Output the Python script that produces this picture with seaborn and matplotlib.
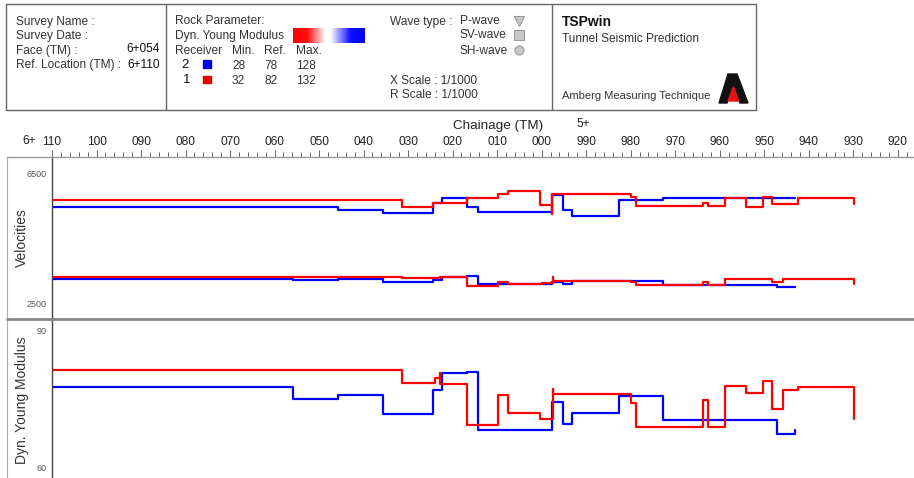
import numpy as np
import matplotlib
matplotlib.use("Agg")
import matplotlib.pyplot as plt
import seaborn as sns
from matplotlib.lines import Line2D
from matplotlib.patches import Rectangle, Polygon
from matplotlib.colors import LinearSegmentedColormap
from matplotlib.ticker import MultipleLocator, FixedLocator

sns.set_style("white")
plt.rcParams['font.family'] = ['Liberation Sans', 'DejaVu Sans']

# chainage (m) where each step starts, and value of the step
# velocities, upper pair (P-wave)
vp1_ch = [6110, 6031.3, 6024.3, 6016.8, 6009.7, 6007.5, 6000.4, 5997.7, 5997.6, 5979.9,
          5978.8, 5963.7, 5962.6, 5958.8, 5954.1, 5950.3, 5948.3, 5942.4, 5929.9]
vp1 = [5690, 5470, 5570, 5740, 5870, 5945, 5525, 5250, 5850, 5760,
       5505, 5575, 5485, 5740, 5475, 5760, 5555, 5730, 5555]
vp2_ch = [6110, 6045.8, 6035.6, 6024.5, 6022.4, 6016.8, 6014.2, 5997.7, 5995.1, 5993.2,
          5982.6, 5972.7, 5943.1]
vp2 = [5465, 5385, 5290, 5585, 5740, 5450, 5315, 5845, 5370, 5200, 5670, 5735, 5735]

# velocities, lower pair
vs1_ch = [6110, 6031.3, 6022.8, 6016.8, 6009.7, 6007.5, 6000.0, 5997.5, 5997.4, 5979.9,
          5978.8, 5963.7, 5962.6, 5958.8, 5948.3, 5945.7, 5929.9]
vs1 = [3310, 3275, 3300, 3045, 3145, 3085, 3115, 3300, 3175, 3145,
       3055, 3170, 3055, 3245, 3145, 3245, 3100]
vs2_ch = [6110, 6055.8, 6045.8, 6035.6, 6024.3, 6022.4, 6016.8, 6014.2, 5997.7, 5995.1,
          5993.2, 5972.7, 5947.2, 5943.1]
vs2 = [3260, 3210, 3240, 3170, 3230, 3300, 3330, 3085, 3145, 3085, 3200, 3065, 2990, 2990]

# dynamic young modulus
E1_ch = [6110, 6031.3, 6024.0, 6022.9, 6022.8, 6016.7, 6009.7, 6007.5, 6000.4, 5997.5,
         5997.4, 5979.9, 5978.8, 5963.7, 5962.6, 5958.8, 5954.1, 5950.3, 5948.3, 5945.7,
         5942.4, 5929.9]
E1 = [81.5, 78.6, 79.6, 80.7, 78.3, 69.4, 75.9, 72.1, 70.8, 77.2,
      76.2, 74.25, 69.0, 74.8, 69.0, 78.0, 76.4, 79.0, 73.0, 77.0,
      77.75, 70.7]
E2_ch = [6110, 6055.8, 6045.8, 6035.6, 6024.5, 6022.4, 6016.8, 6014.2, 5997.7, 5995.1,
         5993.2, 5982.6, 5972.7, 5947.2, 5943.1]
E2 = [77.7, 75.0, 75.9, 71.8, 77.1, 80.7, 81.1, 68.3, 74.5, 69.6,
      72.1, 75.8, 70.5, 67.4, 68.3]

major_ticks = list(range(6110, 5919, -10))
tick_labels = ["%03d" % (t % 1000) for t in major_ticks]

W, H = 914, 478
fig = plt.figure(figsize=(W / 100, H / 100), dpi=100)


def fx(x):
    return x / W


def fy(y):
    return 1 - y / H


def hline(y, x0, x1, color, lw=1.0):
    fig.add_artist(Line2D([fx(x0), fx(x1)], [fy(y), fy(y)], color=color, lw=lw,
                          transform=fig.transFigure))


def vline(x, y0, y1, color, lw=1.0):
    fig.add_artist(Line2D([fx(x), fx(x)], [fy(y0), fy(y1)], color=color, lw=lw,
                          transform=fig.transFigure))


def txt(x, y, s, size=8.6, ha='left', color='#333333', **kw):
    fig.text(fx(x), fy(y), s, fontsize=size, ha=ha, va='center', color=color, **kw)


# header box
hline(4, 6, 756, '#666666')
hline(110, 6, 756, '#666666')
vline(6, 4, 110, '#666666')
vline(756, 4, 110, '#666666')
vline(166, 4, 110, '#666666')
vline(552, 4, 110, '#666666')

txt(16, 21.5, "Survey Name :")
txt(16, 35.5, "Survey Date :")
txt(16, 51, "Face (TM) :")
txt(160, 49.5, "6+054", ha='right', color='#111111')
txt(16, 65, "Ref. Location (TM) :")
txt(160, 65, "6+110", ha='right', color='#111111')

txt(175, 21.5, "Rock Parameter:")
txt(175, 35.5, "Dyn. Young Modulus")
txt(175, 51, "Receiver")
for xx, s in [(232, "Min."), (264, "Ref."), (296, "Max.")]:
    txt(xx, 51, s)
txt(185, 65, "2", ha='center', size=9.5, color='#111111')
txt(186.5, 80, "1", ha='center', size=9.5, color='#111111')
for xx, s in [(232, "28"), (264.5, "78"), (296, "128")]:
    txt(xx, 66, s)
for xx, s in [(232, "32"), (264.5, "82"), (296, "132")]:
    txt(xx, 80.5, s)
fig.add_artist(Rectangle((fx(203), fy(68)), 8 / W, 7.5 / H, color='#0000ee',
                         transform=fig.transFigure))
fig.add_artist(Rectangle((fx(203), fy(83)), 8 / W, 7.5 / H, color='#ee0000',
                         transform=fig.transFigure))

# colour bar of the rock parameter
cmap = LinearSegmentedColormap.from_list(
    'rb', [(0, '#ff0000'), (0.2, '#ff1010'), (0.45, '#ffffff'), (0.52, '#ffffff'),
           (0.8, '#1010ff'), (1, '#0000ff')])
cax = fig.add_axes([fx(293), fy(43), 72 / W, 15 / H])
cax.imshow(np.linspace(0, 1, 200)[None, :], aspect='auto', cmap=cmap)
cax.axis('off')

txt(390, 21.5, "Wave type :")
txt(460, 21.5, "P-wave")
txt(460, 35.5, "SV-wave")
txt(460, 50.5, "SH-wave")
for yy, m in [(21, 'v'), (35, 's'), (50, 'o')]:
    fig.add_artist(Line2D([fx(519)], [fy(yy)], marker=m, ms=6.5, mfc='#c8c8c8',
                          mec='#999999', mew=0.8, ls='none', transform=fig.transFigure))
txt(390, 80.5, "X Scale : 1/1000")
txt(390, 95, "R Scale : 1/1000")

txt(562, 22, "TSPwin", size=10, color='#111111', fontweight='bold')
txt(562, 39.5, "Tunnel Seismic Prediction")
txt(562, 96, "Amberg Measuring Technique", size=8)
# logo
logo = [(728, 74), (737, 74), (748, 103), (740, 103), (733, 85), (727, 103), (719, 103)]
fig.add_artist(Polygon([(fx(a), fy(b)) for a, b in logo], closed=True, color='#111111',
                       transform=fig.transFigure))
red_tri = [(733.5, 87), (738.5, 101), (728, 101)]
fig.add_artist(Polygon([(fx(a), fy(b)) for a, b in red_tri], closed=True, color='#ee1111',
                       transform=fig.transFigure))

# panels
ax_v = fig.add_axes([fx(52), fy(318), (W - 52) / W, 161 / H])
ax_e = fig.add_axes([fx(52), fy(478), (W - 52) / W, 159 / H])

step_kw = dict(drawstyle='steps-post', sort=False, estimator=None, lw=1.6)
sns.lineplot(x=vp2_ch, y=vp2, ax=ax_v, color='#0000ff', **step_kw)
sns.lineplot(x=vs2_ch, y=vs2, ax=ax_v, color='#0000ff', **step_kw)
sns.lineplot(x=vp1_ch, y=vp1, ax=ax_v, color='#ff0000', **step_kw)
sns.lineplot(x=vs1_ch, y=vs1, ax=ax_v, color='#ff0000', **step_kw)
sns.lineplot(x=E2_ch, y=E2, ax=ax_e, color='#0000ff', **step_kw)
sns.lineplot(x=E1_ch, y=E1, ax=ax_e, color='#ff0000', **step_kw)

x_right = 6110 - (W - 52) / 4.451
for ax in (ax_v, ax_e):
    ax.set_xlim(6110, x_right)
    ax.set_xlabel('')
    ax.set_ylabel('')
    for s in ('top', 'right', 'bottom'):
        ax.spines[s].set_visible(False)
    ax.spines['left'].set_color('#444444')
    ax.spines['left'].set_linewidth(1.0)
    ax.tick_params(axis='y', direction='out', length=3, width=0.7, color='#777777',
                   labelsize=6.5, labelcolor='#555555', pad=1)
    ax.tick_params(axis='y', which='minor', direction='out', length=3, width=0.7,
                   color='#777777')

ax_v.set_ylim(2048, 7000)
ax_v.set_yticks([2500, 6500])
ax_e.set_ylim(57.8, 92.6)
ax_e.set_yticks([60, 90])
ax_e.yaxis.set_minor_locator(FixedLocator([65, 70, 75, 80, 85]))
ax_e.set_xticks([])

ax_v.xaxis.tick_top()
ax_v.set_xticks(major_ticks)
ax_v.set_xticklabels(tick_labels)
ax_v.xaxis.set_minor_locator(MultipleLocator(2))
ax_v.tick_params(axis='x', which='major', direction='out', length=5.3, width=0.7,
                 color='#666666', labelsize=8.6, labelcolor='#222222', pad=1,
                 top=True, bottom=False)
ax_v.tick_params(axis='x', which='minor', direction='out', length=3.6, width=0.7,
                 color='#666666', top=True, bottom=False)

txt(36, 141.5, "6+", ha='right', color='#222222')
txt(583, 124, "5+", ha='center', color='#222222')
txt(498, 126, "Chainage (TM)", ha='center', size=9.7, color='#222222')

fig.text(fx(22), fy(238), "Velocities", rotation=90, fontsize=10, ha='center',
         va='center', color='#333333')
fig.text(fx(22), fy(400), "Dyn. Young Modulus", rotation=90, fontsize=10, ha='center',
         va='center', color='#333333')

# frame lines
hline(157, 7, W, '#999999')
vline(7, 157, H, '#aaaaaa', lw=0.8)
hline(318.5, 7, W, '#888888', lw=2)

fig.savefig('out.png', dpi=100)
